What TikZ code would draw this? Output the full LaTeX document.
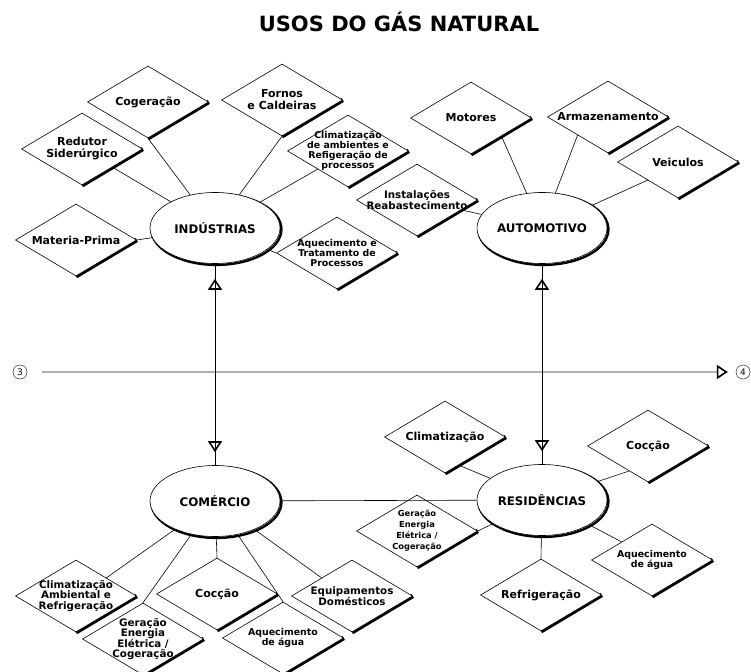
\documentclass[tikz,border=0pt]{standalone}
\usepackage{fontspec}
\setmainfont{DejaVu Sans}
\usetikzlibrary{shapes.geometric,arrows.meta,decorations.markings}
\pgfdeclarelayer{back}
\pgfsetlayers{back,main}
\tikzset{gastip/.tip={Triangle[open, length=11pt, width=14pt, line width=1.6pt]}}

\begin{document}
\begin{tikzpicture}[x=1pt,y=-1pt, every edge/.style={draw, line width=0.6pt}]
    \tikzstyle{oval}=[ellipse, draw, line width=0.6pt, fill=white, minimum width=130pt, minimum height=71pt, inner sep=0pt, font=\bfseries\fontsize{11.8}{12}\selectfont, preaction={draw, line width=2.4pt, transform canvas={shift={(1.4pt,-1.4pt)}}}]
    \tikzstyle{dia}=[diamond, draw, line width=0.6pt, fill=white, minimum width=121pt, minimum height=72pt, inner sep=0pt]
    \tikzstyle{txt}=[align=center, inner sep=0pt, font=\bfseries\fontsize{11}{12}\selectfont]
    \tikzstyle{txtmid}=[txt, font=\bfseries\fontsize{10.3}{10.5}\selectfont]
    \tikzstyle{txtsm}=[txt, font=\bfseries\fontsize{9.4}{10}\selectfont]
    \tikzstyle{txttiny}=[txt, font=\bfseries\fontsize{8.3}{11}\selectfont]
    \tikzstyle{num}=[circle, draw, minimum size=14pt, inner sep=0pt, font=\fontsize{9}{9}\selectfont]
    \tikzstyle{flow}=[draw, line width=0.8pt, postaction={decorate}, decoration={markings, mark=at position 15pt with {\arrowreversed{gastip}}, mark=at position -13pt with {\arrow{gastip}}}]

    \useasboundingbox (0,0) rectangle (751,671);

    \node[font=\bfseries\fontsize{21}{21}\selectfont] (title) at (399,22) {USOS DO GÁS NATURAL};

    % centros
    \node[oval] (ind) at (215,228) {INDÚSTRIAS};
    \node[oval] (auto) at (542,228) {AUTOMOTIVO};
    \node[oval] (com) at (215,501) {COMÉRCIO};
    \node[oval] (res) at (542,500) {RESIDÊNCIAS};

    % industrias
    \node[dia, label={[txt]center:{Redutor\\Siderúrgico}}] (red) at (82,149) {};
    \node[dia, label={[txt]center:Cogeração}] (cog) at (148,102) {};
    \node[dia, label={[txt]center:{Fornos\\e Caldeiras}}] (forn) at (282,100) {};
    \node[dia, label={[txtsm]center:{Climatização\\de ambientes e\\Refigeração de\\processos}}] (cli) at (348,151) {};
    \node[dia, label={[txt]center:Materia-Prima}] (mat) at (76,240) {};
    \node[dia, label={[txtsm]center:{Aquecimento e\\Tratamento de\\Processos}}] (aqi) at (337,253) {};

    % automotivo
    \node[dia, label={[txt]center:Motores}] (mot) at (471,118) {};
    \node[dia, label={[txt]center:Armazenamento}] (arm) at (608,117) {};
    \node[dia, label={[txt]center:Veiculos}] (vei) at (678,162) {};
    \node[dia, label={[txtmid]center:{Instalações\\Reabastecimento}}] (ins) at (417,200) {};

    % comercio
    \node[dia, label={[txtmid]center:{Climatização\\Ambiental e\\Refrigeração}}] (clc) at (76,596) {};
    \node[dia, label={[txtmid]center:{Geração\\Energia\\Elétrica /\\Cogeração}}] (grc) at (143,639) {};
    \node[dia, label={[txt]center:Cocção}] (coc) at (217,594) {};
    \node[dia, label={[txtsm]center:{Aquecimento\\de água}}] (aqc) at (283,638) {};
    \node[dia, label={[txtmid]center:{Equipamentos\\Domésticos}}] (equ) at (352,596) {};

    % residencias
    \node[dia, label={[txt]center:Climatização}] (clr) at (445,437) {};
    \node[dia, label={[txt]center:Cocção}] (ccr) at (648,446) {};
    \node[dia, label={[txttiny]center:{Geração\\Energia\\Elétrica /\\Cogeração}}] (grr) at (417,531) {};
    \node[dia, label={[txtsm]center:{Aquecimento\\de água}}] (aqr) at (652,560) {};
    \node[dia, label={[txt]center:Refrigeração}] (ref) at (541,595) {};

    \begin{pgfonlayer}{back}
        \foreach \d in {red,cog,forn,cli,mat,aqi,mot,arm,vei,ins,clc,grc,coc,aqc,equ,clr,ccr,grr,aqr,ref}
            \draw[line width=4.4pt] (\d.east) -- (\d.south);
    \end{pgfonlayer}

    \path (red.south east) edge (ind);
    \path (cog.south) edge (ind);
    \path (forn.south) edge (ind);
    \path (cli.south west) edge (ind);
    \path (mat.east) edge (ind);
    \path (aqi.west) edge (ind);

    \path (mot.south east) edge (auto);
    \path (arm.south west) edge (auto);
    \path (vei.south west) edge (auto);
    \path (ins) edge (auto);

    \path (clc.north east) edge (com);
    \path (grc.north) edge (com);
    \path (coc.north) edge (com);
    \path (aqc.north) edge (com);
    \path (equ.north west) edge (com);
    \path (com) edge (res);

    \path (clr.-64) edge (res);
    \path (ccr.-127) edge (res);
    \path (grr.east) edge (res);
    \path (aqr.north west) edge (res);
    \path (ref.north) edge (res);

    % linha 3 -> 4
    \node[num] (p3) at (20,372) {3};
    \node[num] (p4) at (743,372) {4};
    \draw[gray!60, line width=1.8pt, shorten <=15pt, shorten >=8pt, -{Triangle[open, length=11pt, width=14pt, line width=1.6pt, color=black]}] (p3) -- (p4);

    \path[flow] (ind) -- (com);
    \path[flow] (auto) -- (res);
\end{tikzpicture}
\end{document}
